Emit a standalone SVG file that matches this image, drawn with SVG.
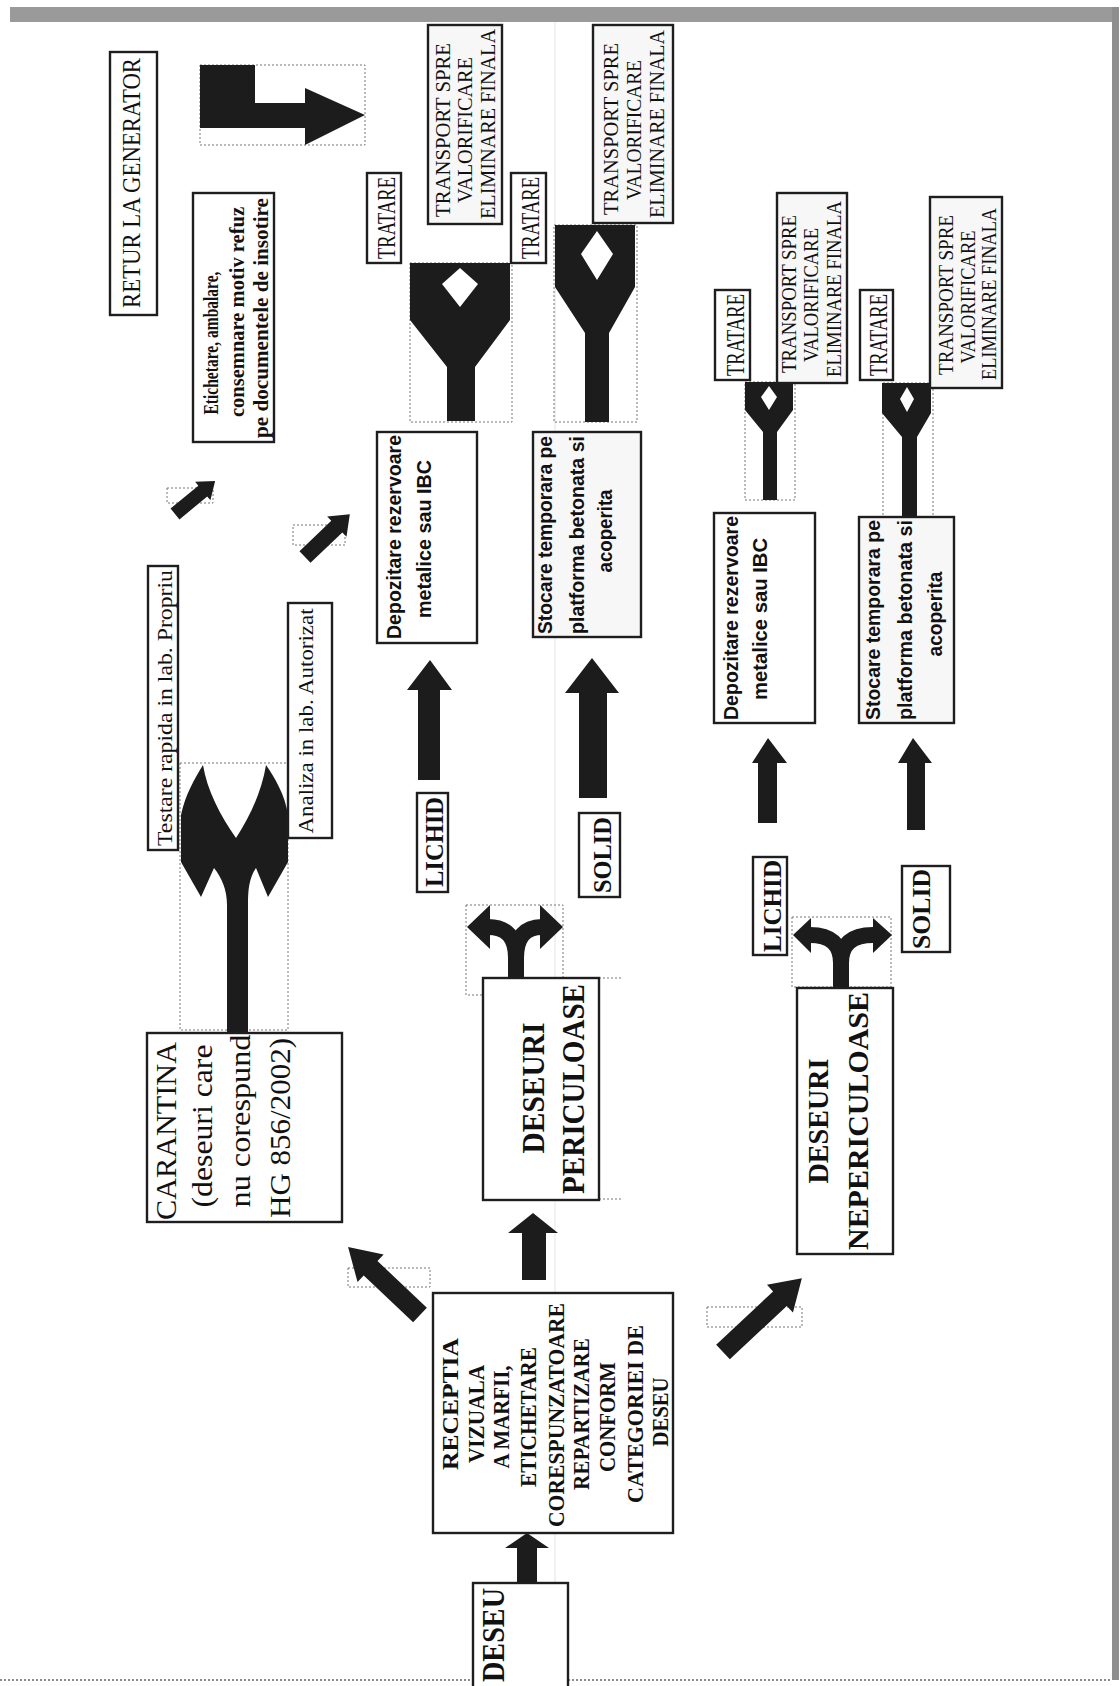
<svg xmlns="http://www.w3.org/2000/svg" width="1120" height="1686" viewBox="0 0 1120 1686">
<style>
.box{fill:#fff;stroke:#1e1e1e;stroke-width:2.4}
.gbox{fill:#f7f7f7;stroke:#1e1e1e;stroke-width:2.4}
.dot{fill:none;stroke:#777;stroke-width:1;stroke-dasharray:2 2}
.arr{fill:#1c1c1c}
.stk{fill:none;stroke:#1c1c1c;stroke-width:16}
.t{text-anchor:middle;fill:#111}
.s{font-family:"Liberation Serif","Times New Roman",serif}
.ss{font-family:"Liberation Sans",Arial,sans-serif}
.b{font-weight:bold}
</style>
<rect x="0" y="0" width="1120" height="1686" fill="#fff"/>
<g id="frame">
<rect x="10" y="7" width="1108" height="15" fill="#9a9a9a"/>
<rect x="1112" y="7" width="7" height="1673" fill="#8e8e8e"/>
<line x1="0" y1="1680" x2="1112" y2="1680" stroke="#666" stroke-width="1.5" stroke-dasharray="2 2"/>
<line x1="555" y1="22" x2="555" y2="1680" stroke="#e4e4e4" stroke-width="1"/>
</g>

<g id="connectors">
<rect class="dot" x="200" y="65" width="165" height="80"/>
<polygon class="arr" points="200,65 255,65 255,103 305,103 305,88 365,115 305,145 305,128 200,128"/>
<rect class="dot" x="167" y="488" width="46" height="15"/>
<polygon class="arr" transform="translate(175,514) rotate(-39.5)" points="0,-7 36,-7 36,-12 52,0 36,12 36,7 0,7"/>
<rect class="dot" x="293" y="525" width="52" height="20"/>
<polygon class="arr" transform="translate(305,557) rotate(-43.7)" points="0,-8 44,-8 44,-14 62,0 44,14 44,8 0,8"/>
<rect class="dot" x="348" y="1268" width="82" height="19"/>
<polygon class="arr" transform="translate(420,1315) rotate(-136.6)" points="0,-10 68,-10 68,-19 99,0 68,19 68,10 0,10"/>
<rect class="dot" x="707" y="1307" width="95" height="20"/>
<polygon class="arr" transform="translate(723,1352) rotate(-43.1)" points="0,-10 78,-10 78,-19 108,0 78,19 78,10 0,10"/>
<polygon class="arr" points="517,1586 517,1548 505,1548 527,1533 549,1548 537,1548 537,1586"/>
<polygon class="arr" points="522,1280 522,1233 508,1233 533,1213 558,1233 546,1233 546,1280"/>
<polygon class="arr" points="418,780 418,690 407,690 430,660 452,690 440,690 440,780"/>
<polygon class="arr" points="579,798 579,693 565,693 592,658 619,693 607,693 607,798"/>
<polygon class="arr" points="758,823 758,763 752,763 768,738 787,763 777,763 777,823"/>
<polygon class="arr" points="907,830 907,763 898,763 913,738 932,763 925,763 925,830"/>
<rect class="dot" x="410" y="263" width="102" height="159"/>
<path class="arr" fill-rule="evenodd" d="M410,263 H510 V320 L475,367 V421 H447 V367 L410,320 Z M460,268 L478,284 L460,307 L442,284 Z"/>
<rect class="dot" x="554" y="225" width="83" height="197"/>
<path class="arr" fill-rule="evenodd" d="M555,225 H635 V287 L609,333 V422 H585 V333 L555,287 Z M597,231 L613,254 L597,280 L581,254 Z"/>
<rect class="dot" x="745" y="382" width="50" height="118"/>
<path class="arr" fill-rule="evenodd" d="M745,382 H793 V410 L777,432 V500 H763 V432 L745,410 Z M769,386 L777,397 L769,410 L761,397 Z"/>
<rect class="dot" x="883" y="383" width="50" height="134"/>
<path class="arr" fill-rule="evenodd" d="M882,383 H931 V413 L917,437 V517 H902 V437 L882,413 Z M907,387 L914,399 L907,412 L900,399 Z"/>
<rect class="dot" x="466" y="905" width="97" height="90"/>
<path class="stk" d="M516,996 V958 Q516,927 488,927 M516,958 Q516,927 542,927"/>
<polygon class="arr" points="490,905 467,927 490,949"/>
<polygon class="arr" points="540,905 563,927 540,949"/>
<rect class="dot" x="792" y="917" width="99" height="70"/>
<path class="stk" d="M841,994 V963 Q841,935 810,935 M841,963 Q841,935 873,935"/>
<polygon class="arr" points="811,918 793,935 811,953"/>
<polygon class="arr" points="873,918 892,935 873,953"/>
<rect class="dot" x="180" y="763" width="108" height="267"/>
<path class="arr" d="M227,1036 L227,905 C227,890 222,878 214,868 L201,897 L181,862 L181,815 C185,795 195,778 203,765 C207,790 220,815 236,838 C251,815 262,790 266,765 C275,778 285,795 288,815 L288,862 L268,897 L256,868 C249,878 248,890 248,905 L248,1036 Z"/>
</g>

<g id="retur">
<rect class="box" x="110" y="52" width="47" height="263"/>
<text class="t s" font-size="26" transform="translate(140,183) rotate(-90)" textLength="250" lengthAdjust="spacingAndGlyphs">RETUR LA GENERATOR</text>
</g>
<g id="etichetare">
<rect class="box" x="193" y="193" width="81" height="249"/>
<text class="t s b" font-size="21" transform="translate(218,343) rotate(-90)" textLength="143" lengthAdjust="spacingAndGlyphs">Etichetare, ambalare,</text>
<text class="t s b" font-size="21" transform="translate(244,312) rotate(-90)" textLength="210" lengthAdjust="spacingAndGlyphs">consemnare motiv refuz</text>
<text class="t s b" font-size="21" transform="translate(268,318) rotate(-90)" textLength="240" lengthAdjust="spacingAndGlyphs">pe documentele de insotire</text>
</g>
<g id="tratare1"><rect class="box" x="367" y="173" width="34" height="90"/>
<text class="t s" font-size="26" transform="translate(395,218) rotate(-90)" textLength="82" lengthAdjust="spacingAndGlyphs">TRATARE</text></g>
<g id="tratare2"><rect class="box" x="511" y="173" width="35" height="90"/>
<text class="t s" font-size="26" transform="translate(539,218) rotate(-90)" textLength="82" lengthAdjust="spacingAndGlyphs">TRATARE</text></g>
<g id="tratare3"><rect class="box" x="715" y="290" width="35" height="90"/>
<text class="t s" font-size="26" transform="translate(744,335) rotate(-90)" textLength="82" lengthAdjust="spacingAndGlyphs">TRATARE</text></g>
<g id="tratare4"><rect class="box" x="860" y="290" width="33" height="90"/>
<text class="t s" font-size="26" transform="translate(887,335) rotate(-90)" textLength="82" lengthAdjust="spacingAndGlyphs">TRATARE</text></g>

<g id="transport1"><rect class="gbox" x="428" y="25" width="74" height="199"/>
<text class="t s" font-size="22" transform="translate(450,130) rotate(-90)" textLength="174" lengthAdjust="spacingAndGlyphs">TRANSPORT SPRE</text>
<text class="t s" font-size="22" transform="translate(472,130) rotate(-90)" textLength="146" lengthAdjust="spacingAndGlyphs">VALORIFICARE</text>
<text class="t s" font-size="22" transform="translate(495,124) rotate(-90)" textLength="190" lengthAdjust="spacingAndGlyphs">ELIMINARE FINALA</text></g>
<g id="transport2"><rect class="gbox" x="593" y="25" width="80" height="198"/>
<text class="t s" font-size="22" transform="translate(618,129) rotate(-90)" textLength="172" lengthAdjust="spacingAndGlyphs">TRANSPORT SPRE</text>
<text class="t s" font-size="22" transform="translate(641,130) rotate(-90)" textLength="140" lengthAdjust="spacingAndGlyphs">VALORIFICARE</text>
<text class="t s" font-size="22" transform="translate(664,124) rotate(-90)" textLength="188" lengthAdjust="spacingAndGlyphs">ELIMINARE FINALA</text></g>
<g id="transport3"><rect class="gbox" x="777" y="193" width="70" height="190"/>
<text class="t s" font-size="20" transform="translate(796,294) rotate(-90)" textLength="158" lengthAdjust="spacingAndGlyphs">TRANSPORT SPRE</text>
<text class="t s" font-size="20" transform="translate(818,295) rotate(-90)" textLength="134" lengthAdjust="spacingAndGlyphs">VALORIFICARE</text>
<text class="t s" font-size="20" transform="translate(841,289) rotate(-90)" textLength="176" lengthAdjust="spacingAndGlyphs">ELIMINARE FINALA</text></g>
<g id="transport4"><rect class="gbox" x="930" y="197" width="72" height="191"/>
<text class="t s" font-size="20" transform="translate(953,295) rotate(-90)" textLength="160" lengthAdjust="spacingAndGlyphs">TRANSPORT SPRE</text>
<text class="t s" font-size="20" transform="translate(975,297) rotate(-90)" textLength="133" lengthAdjust="spacingAndGlyphs">VALORIFICARE</text>
<text class="t s" font-size="20" transform="translate(996,294) rotate(-90)" textLength="172" lengthAdjust="spacingAndGlyphs">ELIMINARE FINALA</text></g>

<g id="depozitare1"><rect class="box" x="377" y="432" width="100" height="211"/>
<text class="t ss b" font-size="20" transform="translate(401,537) rotate(-90)" textLength="204" lengthAdjust="spacingAndGlyphs">Depozitare rezervoare</text>
<text class="t ss b" font-size="20" transform="translate(431,539) rotate(-90)" textLength="158" lengthAdjust="spacingAndGlyphs">metalice sau IBC</text></g>
<g id="stocare1"><rect class="gbox" x="533" y="432" width="108" height="205"/>
<text class="t ss b" font-size="20" transform="translate(552,535) rotate(-90)" textLength="198" lengthAdjust="spacingAndGlyphs">Stocare temporara pe</text>
<text class="t ss b" font-size="20" transform="translate(584,535) rotate(-90)" textLength="198" lengthAdjust="spacingAndGlyphs">platforma betonata si</text>
<text class="t ss b" font-size="20" transform="translate(612,531) rotate(-90)" textLength="83" lengthAdjust="spacingAndGlyphs">acoperita</text></g>
<g id="depozitare2"><rect class="box" x="714" y="513" width="101" height="210"/>
<text class="t ss b" font-size="20" transform="translate(738,618) rotate(-90)" textLength="204" lengthAdjust="spacingAndGlyphs">Depozitare rezervoare</text>
<text class="t ss b" font-size="20" transform="translate(767,619) rotate(-90)" textLength="162" lengthAdjust="spacingAndGlyphs">metalice sau IBC</text></g>
<g id="stocare2"><rect class="gbox" x="859" y="517" width="95" height="206"/>
<text class="t ss b" font-size="20" transform="translate(880,620) rotate(-90)" textLength="200" lengthAdjust="spacingAndGlyphs">Stocare temporara pe</text>
<text class="t ss b" font-size="20" transform="translate(912,620) rotate(-90)" textLength="200" lengthAdjust="spacingAndGlyphs">platforma betonata si</text>
<text class="t ss b" font-size="20" transform="translate(942,614) rotate(-90)" textLength="85" lengthAdjust="spacingAndGlyphs">acoperita</text></g>

<g id="lichid1"><rect class="box" x="417" y="793" width="31" height="99"/>
<text class="t s b" font-size="25" transform="translate(443,842) rotate(-90)" textLength="90" lengthAdjust="spacingAndGlyphs">LICHID</text></g>
<g id="solid1"><rect class="box" x="579" y="813" width="41" height="84"/>
<text class="t s b" font-size="25" transform="translate(611,855) rotate(-90)" textLength="76" lengthAdjust="spacingAndGlyphs">SOLID</text></g>
<g id="lichid2"><rect class="box" x="753" y="857" width="34" height="98"/>
<text class="t s b" font-size="25" transform="translate(781,906) rotate(-90)" textLength="92" lengthAdjust="spacingAndGlyphs">LICHID</text></g>
<g id="solid2"><rect class="box" x="902" y="866" width="48" height="86"/>
<text class="t s b" font-size="25" transform="translate(930,909) rotate(-90)" textLength="80" lengthAdjust="spacingAndGlyphs">SOLID</text></g>

<g id="periculoase">
<line class="dot" x1="599" y1="978" x2="623" y2="978"/><line class="dot" x1="599" y1="1199" x2="623" y2="1199"/>
<rect class="box" x="483" y="978" width="116" height="222"/>
<text class="t s b" font-size="31" transform="translate(544,1088) rotate(-90)" textLength="131" lengthAdjust="spacingAndGlyphs">DESEURI</text>
<text class="t s b" font-size="31" transform="translate(584,1089) rotate(-90)" textLength="210" lengthAdjust="spacingAndGlyphs">PERICULOASE</text></g>
<g id="nepericuloase"><rect class="box" x="797" y="988" width="96" height="266"/>
<text class="t s b" font-size="30" transform="translate(828,1121) rotate(-90)" textLength="125" lengthAdjust="spacingAndGlyphs">DESEURI</text>
<text class="t s b" font-size="30" transform="translate(868,1121) rotate(-90)" textLength="258" lengthAdjust="spacingAndGlyphs">NEPERICULOASE</text></g>

<g id="carantina"><rect class="box" x="147" y="1033" width="195" height="189"/>
<text class="t s" font-size="29" transform="translate(176,1131) rotate(-90)" textLength="178" lengthAdjust="spacingAndGlyphs">CARANTINA</text>
<text class="t s" font-size="29" transform="translate(212,1126) rotate(-90)" textLength="163" lengthAdjust="spacingAndGlyphs">(deseuri care</text>
<text class="t s" font-size="29" transform="translate(250,1121) rotate(-90)" textLength="173" lengthAdjust="spacingAndGlyphs">nu corespund</text>
<text class="t s" font-size="29" transform="translate(290,1128) rotate(-90)" textLength="180" lengthAdjust="spacingAndGlyphs">HG 856/2002)</text></g>

<g id="testare"><rect class="box" x="148" y="566" width="30" height="284"/>
<text class="t s" font-size="21" transform="translate(172,708) rotate(-90)" textLength="276" lengthAdjust="spacingAndGlyphs">Testare rapida in lab. Propriu</text></g>
<g id="analiza"><rect class="box" x="288" y="603" width="44" height="235"/>
<text class="t s" font-size="22" transform="translate(313,721) rotate(-90)" textLength="225" lengthAdjust="spacingAndGlyphs">Analiza in lab. Autorizat</text></g>

<g id="receptia"><rect class="box" x="433" y="1293" width="240" height="240"/>
<text class="t s b" font-size="24" transform="translate(458,1404) rotate(-90)" textLength="132" lengthAdjust="spacingAndGlyphs">RECEPTIA</text>
<text class="t s b" font-size="24" transform="translate(484,1414) rotate(-90)" textLength="98" lengthAdjust="spacingAndGlyphs">VIZUALA</text>
<text class="t s b" font-size="24" transform="translate(509,1417) rotate(-90)" textLength="103" lengthAdjust="spacingAndGlyphs">A MARFII,</text>
<text class="t s b" font-size="24" transform="translate(536,1417) rotate(-90)" textLength="140" lengthAdjust="spacingAndGlyphs">ETICHETARE</text>
<text class="t s b" font-size="24" transform="translate(564,1415) rotate(-90)" textLength="224" lengthAdjust="spacingAndGlyphs">CORESPUNZATOARE</text>
<text class="t s b" font-size="24" transform="translate(589,1414) rotate(-90)" textLength="152" lengthAdjust="spacingAndGlyphs">REPARTIZARE</text>
<text class="t s b" font-size="24" transform="translate(615,1417) rotate(-90)" textLength="110" lengthAdjust="spacingAndGlyphs">CONFORM</text>
<text class="t s b" font-size="24" transform="translate(643,1414) rotate(-90)" textLength="178" lengthAdjust="spacingAndGlyphs">CATEGORIEI DE</text>
<text class="t s b" font-size="24" transform="translate(668,1412) rotate(-90)" textLength="69" lengthAdjust="spacingAndGlyphs">DESEU</text></g>

<g id="deseu"><rect class="box" x="473" y="1583" width="95" height="110"/>
<text class="t s b" font-size="31" transform="translate(504,1635) rotate(-90)" textLength="94" lengthAdjust="spacingAndGlyphs">DESEU</text></g>
</svg>
